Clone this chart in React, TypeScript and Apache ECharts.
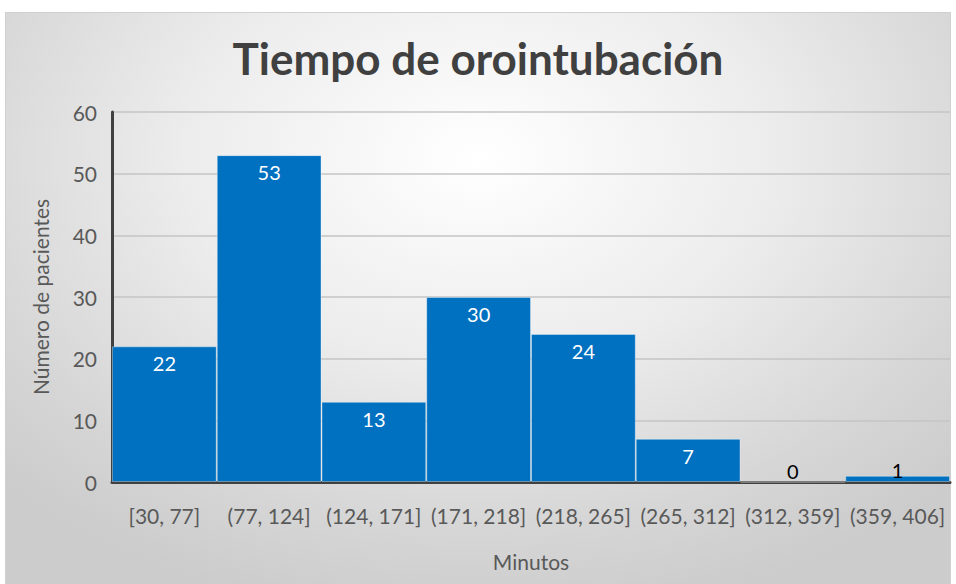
import React, { useEffect, useRef } from "react";
import * as echarts from "echarts";

const categories = ["[30, 77]", "(77, 124]", "(124, 171]", "(171, 218]", "(218, 265]", "(265, 312]", "(312, 359]", "(359, 406]"];
const counts = [22, 53, 13, 30, 24, 7, 0, 1];
const yTicks = [0, 10, 20, 30, 40, 50, 60];
const titleText = "Tiempo de orointubación";
const xName = "Minutos";
const yName = "Número de pacientes";

const FONT = "Lato";

export default function App() {
  const ref = useRef<HTMLDivElement>(null);
  useEffect(() => {
    if (!ref.current) return;
    const chart = echarts.init(ref.current, null, { renderer: "svg" });
    chart.setOption({
      animation: false,
      backgroundColor: "transparent",
      title: {
        text: titleText,
        left: "center",
        top: 31,
        textStyle: { fontFamily: FONT, fontSize: 44, fontWeight: "bold", color: "#404040" },
      },
      grid: { left: 112, right: 6, top: 112, bottom: 102, containLabel: false },
      xAxis: {
        type: "category",
        data: categories,
        name: xName,
        nameLocation: "middle",
        nameGap: 69,
        nameTextStyle: { fontFamily: FONT, fontSize: 21, color: "#595959" },
        axisLine: { lineStyle: { color: "#404040", width: 3 } },
        axisTick: { show: false },
        axisLabel: { fontFamily: FONT, fontSize: 21, color: "#595959", margin: 23, interval: 0 },
      },
      yAxis: {
        type: "value",
        min: yTicks[0],
        max: yTicks[yTicks.length - 1],
        interval: 10,
        name: yName,
        nameLocation: "middle",
        nameGap: 61,
        nameTextStyle: { fontFamily: FONT, fontSize: 21, color: "#595959" },
        axisLine: { show: true, lineStyle: { color: "#404040", width: 3 } },
        axisTick: { show: false },
        axisLabel: { fontFamily: FONT, fontSize: 21, color: "#595959", margin: 15 },
        splitLine: { lineStyle: { color: "#c4c4c4", width: 1.5 } },
      },
      series: [
        {
          type: "bar",
          barCategoryGap: "0%",
          data: counts.map((v) => ({
            value: v,
            label:
              v <= 1
                ? { position: "insideBottom", distance: 2, color: "#000000" }
                : undefined,
          })),
          itemStyle: { color: "#0070C0", borderColor: "rgba(255,255,255,0.35)", borderWidth: 1 },
          label: {
            show: true,
            position: "insideTop",
            distance: 7,
            fontFamily: FONT,
            fontSize: 20,
            color: "#ffffff",
          },
        },
      ],
    });
    return () => chart.dispose();
  }, []);

  return (
    <div style={{ position: "fixed", left: 0, top: 0, width: 956, height: 584, background: "#ffffff", overflow: "hidden" }}>
      <div
        style={{
          position: "absolute",
          left: 5,
          top: 12,
          width: 946,
          height: 580,
          boxSizing: "border-box",
          border: "1px solid #d0d0d0",
          background: "radial-gradient(ellipse 70% 80% at 50% 25%, #ffffff 0%, #ececec 45%, #d6d6d6 80%, #cccccc 100%)",
        }}
      />
      <div ref={ref} style={{ position: "absolute", left: 0, top: 0, width: 956, height: 584 }} />
    </div>
  );
}
